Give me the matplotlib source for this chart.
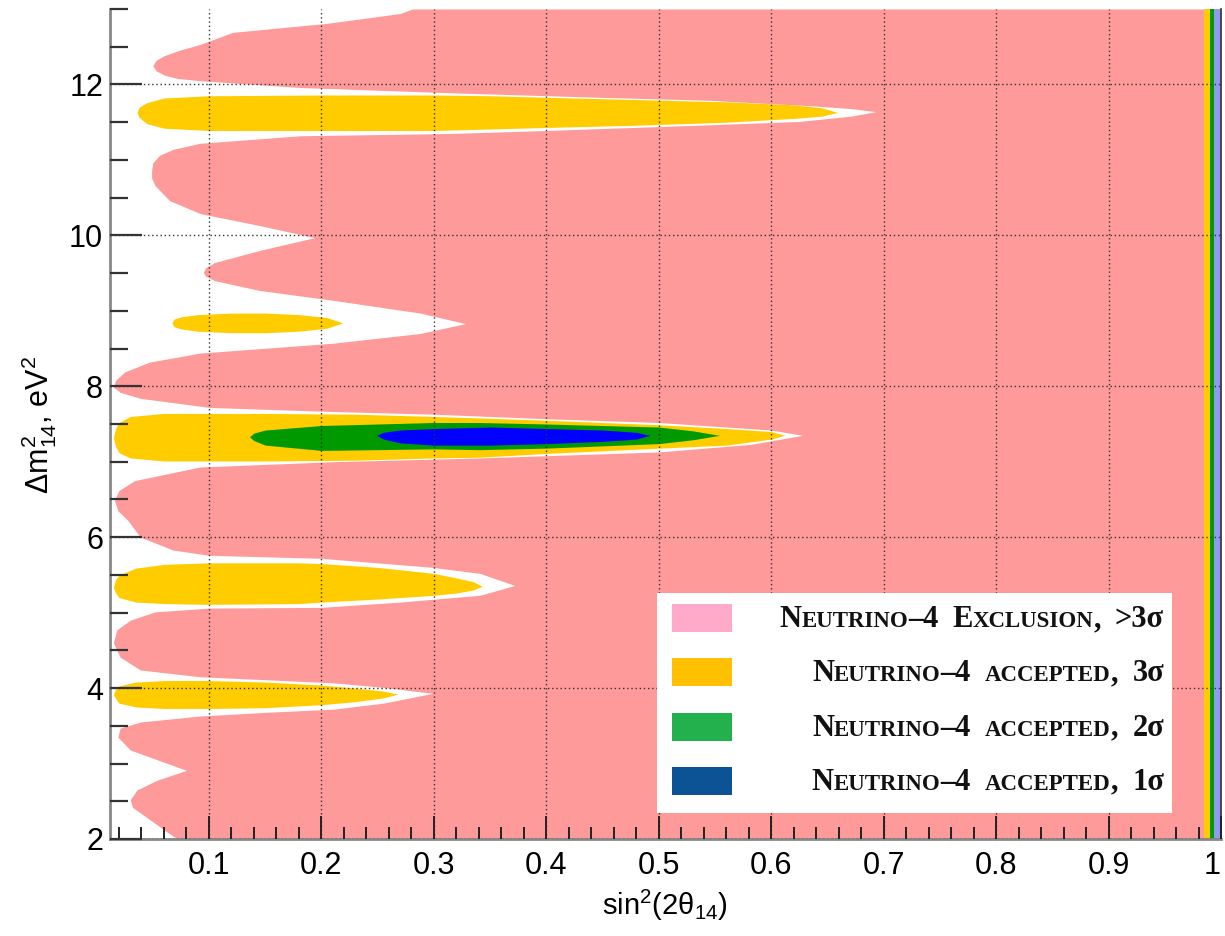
#!/usr/bin/env python3
"""
Neutrino-4 exclusion / acceptance map in the (sin^2 2theta_14, dm^2_14) plane,
ROOT-style contour look.

Output: out.png
"""

import matplotlib.pyplot as plt
from matplotlib.patches import Rectangle
from matplotlib.ticker import FixedLocator, MultipleLocator

W, H = 1225, 936

# ---- Exclusion (>3 sigma): left edge of the excluded area along dm^2 ------
EXCL_DM2 = [2.00, 2.10, 2.25, 2.42, 2.52, 2.65, 2.78, 2.91, 3.05, 3.18,
            3.35, 3.47, 3.55, 3.63, 3.68, 3.72, 3.80, 3.93, 4.01, 4.07,
            4.11, 4.15, 4.24, 4.41, 4.60, 4.77, 4.90, 5.01, 5.06, 5.07,
            5.14, 5.23, 5.36, 5.52, 5.60, 5.72, 5.76, 5.83, 6.00, 6.22,
            6.35, 6.49, 6.62, 6.75, 6.93, 7.00, 7.05, 7.13, 7.23, 7.35,
            7.42, 7.52, 7.57, 7.63, 7.67, 7.72, 7.84, 7.92, 7.99, 8.08,
            8.19, 8.32, 8.44, 8.57, 8.70, 8.83, 8.97, 9.14, 9.27, 9.40,
            9.46, 9.51, 9.57, 9.64, 9.80, 9.97, 10.13, 10.29, 10.46, 10.66,
            10.76, 10.86, 10.96, 11.06, 11.14, 11.22, 11.32, 11.35, 11.39, 11.46,
            11.51, 11.58, 11.64, 11.68, 11.72, 11.74, 11.79, 11.83, 11.89, 11.96,
            12.05, 12.08, 12.12, 12.18, 12.25, 12.32, 12.38, 12.45, 12.53, 12.69,
            12.81, 12.94, 13.00]
EXCL_SIN2 = [0.072, 0.062, 0.048, 0.032, 0.030, 0.036, 0.054, 0.080, 0.054, 0.030,
             0.019, 0.021, 0.039, 0.092, 0.152, 0.210, 0.255, 0.299, 0.255, 0.210,
             0.152, 0.092, 0.039, 0.021, 0.015, 0.018, 0.030, 0.052, 0.100, 0.200,
             0.270, 0.341, 0.372, 0.341, 0.299, 0.200, 0.100, 0.068, 0.039, 0.028,
             0.019, 0.016, 0.020, 0.034, 0.092, 0.210, 0.341, 0.500, 0.582, 0.628,
             0.600, 0.500, 0.400, 0.300, 0.200, 0.100, 0.039, 0.021, 0.015, 0.017,
             0.025, 0.047, 0.092, 0.210, 0.288, 0.328, 0.288, 0.210, 0.145, 0.105,
             0.097, 0.095, 0.097, 0.105, 0.145, 0.194, 0.145, 0.092, 0.065, 0.052,
             0.049, 0.049, 0.050, 0.056, 0.068, 0.092, 0.181, 0.314, 0.400, 0.536,
             0.625, 0.671, 0.693, 0.671, 0.633, 0.607, 0.545, 0.447, 0.314, 0.181,
             0.092, 0.072, 0.061, 0.053, 0.050, 0.053, 0.060, 0.073, 0.092, 0.121,
             0.205, 0.270, 0.281]

# ---- Accepted islands: (sin^2, upper dm^2, lower dm^2) --------------------
ACC3_A_SIN2 = [0.036, 0.038, 0.045, 0.060, 0.100, 0.200, 0.300, 0.350, 0.400, 0.480, 0.560, 0.620, 0.645, 0.659]
ACC3_A_TOP  = [11.63, 11.70, 11.76, 11.82, 11.85, 11.86, 11.86, 11.85, 11.83, 11.80, 11.77, 11.73, 11.69, 11.63]
ACC3_A_BOT  = [11.63, 11.56, 11.48, 11.42, 11.39, 11.39, 11.39, 11.41, 11.43, 11.46, 11.50, 11.55, 11.58, 11.63]

ACC3_B_SIN2 = [0.067, 0.069, 0.075, 0.090, 0.120, 0.150, 0.180, 0.205, 0.219]
ACC3_B_TOP  = [8.84, 8.89, 8.92, 8.95, 8.97, 8.97, 8.95, 8.91, 8.84]
ACC3_B_BOT  = [8.84, 8.79, 8.76, 8.73, 8.71, 8.71, 8.73, 8.77, 8.84]

ACC3_C_SIN2 = [0.015, 0.017, 0.020, 0.030, 0.060, 0.150, 0.230, 0.300, 0.341, 0.400, 0.500, 0.560, 0.600, 0.612]
ACC3_C_TOP  = [7.32, 7.44, 7.52, 7.60, 7.64, 7.64, 7.63, 7.60, 7.58, 7.55, 7.49, 7.44, 7.40, 7.35]
ACC3_C_BOT  = [7.32, 7.20, 7.12, 7.05, 7.01, 7.01, 7.02, 7.05, 7.06, 7.11, 7.18, 7.22, 7.30, 7.35]

ACC3_D_SIN2 = [0.015, 0.017, 0.020, 0.035, 0.060, 0.100, 0.180, 0.200, 0.250, 0.300, 0.320, 0.335, 0.343]
ACC3_D_TOP  = [5.34, 5.44, 5.50, 5.59, 5.64, 5.66, 5.66, 5.65, 5.60, 5.52, 5.46, 5.41, 5.35]
ACC3_D_BOT  = [5.34, 5.26, 5.20, 5.14, 5.12, 5.11, 5.12, 5.14, 5.18, 5.23, 5.26, 5.30, 5.35]

ACC3_E_SIN2 = [0.015, 0.017, 0.020, 0.035, 0.060, 0.100, 0.150, 0.200, 0.230, 0.255, 0.268]
ACC3_E_TOP  = [3.92, 3.98, 4.03, 4.08, 4.10, 4.10, 4.08, 4.04, 4.00, 3.96, 3.92]
ACC3_E_BOT  = [3.92, 3.86, 3.80, 3.75, 3.73, 3.73, 3.74, 3.78, 3.82, 3.87, 3.92]

ACC2_SIN2 = [0.136, 0.140, 0.150, 0.200, 0.300, 0.341, 0.400, 0.500, 0.530, 0.554]
ACC2_TOP  = [7.33, 7.38, 7.42, 7.48, 7.52, 7.52, 7.50, 7.46, 7.41, 7.35]
ACC2_BOT  = [7.33, 7.28, 7.22, 7.15, 7.17, 7.16, 7.18, 7.24, 7.29, 7.35]

ACC1_SIN2 = [0.249, 0.255, 0.270, 0.300, 0.350, 0.400, 0.450, 0.480, 0.492]
ACC1_TOP  = [7.35, 7.39, 7.42, 7.44, 7.46, 7.44, 7.42, 7.39, 7.35]
ACC1_BOT  = [7.35, 7.30, 7.25, 7.22, 7.22, 7.24, 7.27, 7.30, 7.35]

# thin accepted bands hugging sin^2 = 1 (3 sigma, 2 sigma, 1 sigma)
EDGE_BANDS = [0.985, 0.990, 0.994, 0.999]

X_TICKS = [0.1, 0.2, 0.3, 0.4, 0.5, 0.6, 0.7, 0.8, 0.9, 1.0]
X_TICK_LABELS = ["0.1", "0.2", "0.3", "0.4", "0.5", "0.6", "0.7", "0.8", "0.9", "1"]
Y_TICKS = [2, 4, 6, 8, 10, 12]

LEGEND_LABELS = ["Neutrino–4 Exclusion, >3σ",
                 "Neutrino–4 accepted, 3σ",
                 "Neutrino–4 accepted, 2σ",
                 "Neutrino–4 accepted, 1σ"]

# ---- colours ---------------------------------------------------------------
C_EXCL, C_3S, C_2S, C_1S = "#ff9a9a", "#ffcc00", "#009900", "#0000ff"
LEG_COLORS = ["#ffaac8", "#ffc000", "#22b14c", "#0b5394"]

plt.rcParams.update({
    "font.family":        ["Liberation Sans", "DejaVu Sans"],
    "font.size":          22,
    "mathtext.fontset":   "custom",
    "mathtext.rm":        "Liberation Sans",
    "mathtext.it":        "Liberation Sans:italic",
    "mathtext.bf":        "Liberation Sans:bold",
})


def small_caps(fig, renderer, text, right_px, base_px, big=22, small=16.5, gap=14):
    """Right-aligned pseudo small caps: lowercase latin letters drawn as smaller capitals."""
    runs = []
    for c in text:
        kind = "gap" if c == " " else ("s" if c.isascii() and c.islower() else "B")
        if runs and runs[-1][0] == kind and kind != "gap":
            runs[-1][1] += c
        else:
            runs.append([kind, c])
    x = right_px
    for kind, chunk in reversed(runs):
        if kind == "gap":
            x -= gap
            continue
        t = fig.text(x / W, (H - base_px) / H, chunk.upper() if kind == "s" else chunk,
                     ha="right", va="baseline", family="Liberation Serif",
                     weight="bold", fontsize=small if kind == "s" else big,
                     color="#111111", zorder=7)
        x -= t.get_window_extent(renderer).width


def main() -> None:
    fig = plt.figure(figsize=(W / 100, H / 100), dpi=100)
    ax = fig.add_axes([110 / W, 97 / H, 1111 / W, 830 / H])

    # ---- filled regions ----
    ax.fill_betweenx(EXCL_DM2, EXCL_SIN2, 1.0, color=C_EXCL, lw=0, zorder=1)
    for s, top, bot in [(ACC3_A_SIN2, ACC3_A_TOP, ACC3_A_BOT),
                        (ACC3_B_SIN2, ACC3_B_TOP, ACC3_B_BOT),
                        (ACC3_C_SIN2, ACC3_C_TOP, ACC3_C_BOT),
                        (ACC3_D_SIN2, ACC3_D_TOP, ACC3_D_BOT),
                        (ACC3_E_SIN2, ACC3_E_TOP, ACC3_E_BOT)]:
        ax.fill_between(s, bot, top, color=C_3S, lw=0, zorder=1.2)
    ax.fill_between(ACC2_SIN2, ACC2_BOT, ACC2_TOP, color=C_2S, lw=0, zorder=1.4)
    ax.fill_between(ACC1_SIN2, ACC1_BOT, ACC1_TOP, color=C_1S, lw=0, zorder=1.6)
    for x0, x1, col in zip(EDGE_BANDS[:-1], EDGE_BANDS[1:], [C_3S, C_2S, "#8c9cf0"]):
        ax.axvspan(x0, x1, color=col, lw=0, zorder=1.2)

    # ---- axes ----
    ax.set_xlim(0.012, 1.0)
    ax.set_ylim(2, 13)
    ax.xaxis.set_major_locator(FixedLocator(X_TICKS))
    ax.set_xticklabels(X_TICK_LABELS)
    ax.get_xticklabels()[-1].set_horizontalalignment("right")
    ax.xaxis.set_minor_locator(MultipleLocator(0.02))
    ax.yaxis.set_major_locator(FixedLocator(Y_TICKS))
    ax.yaxis.set_minor_locator(MultipleLocator(0.5))

    ax.grid(True, which="major", linestyle=(0, (1, 2)), color="#333333", lw=1.0)
    ax.set_axisbelow(False)

    ax.tick_params(axis="x", which="major", direction="in", length=16.5, width=1.4,
                   pad=9, color="#222222", top=False)
    ax.tick_params(axis="x", which="minor", direction="in", length=8.5, width=1.4,
                   color="#222222", top=False)
    ax.tick_params(axis="y", which="major", direction="in", length=23, width=1.6,
                   pad=5, color="#333333", right=False)
    ax.tick_params(axis="y", which="minor", direction="in", length=13, width=1.6,
                   color="#333333", right=False)

    ax.spines["top"].set_visible(False)
    ax.spines["right"].set_color("#333333")
    ax.spines["right"].set_linewidth(1.2)
    for side in ("left", "bottom"):
        ax.spines[side].set_color("#888888")
        ax.spines[side].set_linewidth(2.0)

    fig.text(665 / W, (H - 905) / H, r"sin$^2$(2θ$_{14}$)", ha="center", va="center",
             fontsize=21)
    fig.text(39 / W, (H - 425) / H, r"Δm$^2_{14}$, eV$^2$", ha="center", va="center",
             rotation=90, fontsize=22)

    # ---- legend box (ROOT TLegend look, drawn by hand for small caps) ----
    fig.add_artist(Rectangle((657 / W, (H - 813) / H), 515 / W, 220 / H,
                             transform=fig.transFigure, facecolor="white",
                             edgecolor="none", zorder=5))
    renderer = fig.canvas.get_renderer()
    for i, (label, col) in enumerate(zip(LEGEND_LABELS, LEG_COLORS)):
        yc = 618 + i * 54.3
        fig.add_artist(Rectangle((672 / W, (H - yc - 14) / H), 60 / W, 28 / H,
                                 transform=fig.transFigure, facecolor=col,
                                 edgecolor="none", zorder=6))
        small_caps(fig, renderer, label, 1164, yc + 9)

    fig.savefig("out.png", dpi=100)


if __name__ == "__main__":
    main()
